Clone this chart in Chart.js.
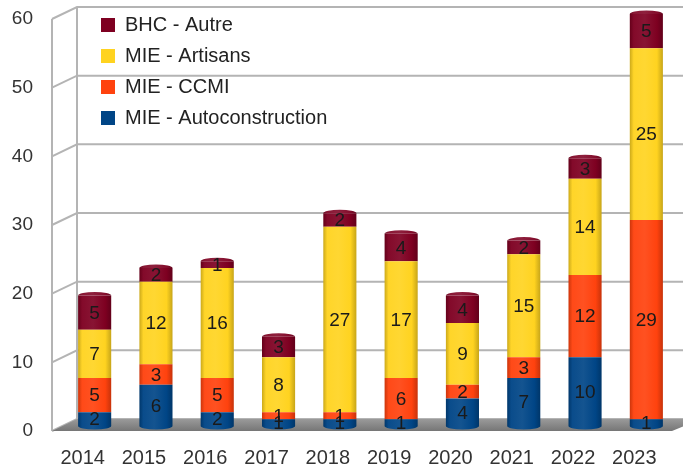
<!DOCTYPE html>
<html>
<head>
<meta charset="utf-8">
<script src="https://cdn.jsdelivr.net/npm/chart.js@4/dist/chart.umd.min.js"></script>
<style>
  html, body { margin: 0; padding: 0; background: #ffffff; }
  #wrap { width: 683px; height: 470px; }
</style>
</head>
<body>
<div id="wrap"><canvas id="c" width="683" height="470"></canvas></div>
<script>
// Categories and series
const years = ['2014', '2015', '2016', '2017', '2018', '2019', '2020', '2021', '2022', '2023'];
const autoconstruction = [2, 6, 2, 1, 1, 1, 4, 7, 10, 1];
const ccmi = [5, 3, 5, 1, 1, 6, 2, 3, 12, 29];
const artisans = [7, 12, 16, 8, 27, 17, 9, 15, 14, 25];
const autre = [5, 2, 1, 3, 2, 4, 4, 2, 3, 5];
const seriesNames = ['MIE - Autoconstruction', 'MIE - CCMI', 'MIE - Artisans', 'BHC - Autre'];
const seriesColors = ['#004586', '#ff420e', '#ffd320', '#7e0021'];
const yTicks = [0, 10, 20, 30, 40, 50, 60];

const BAR_RATIO = 0.54;
// depth offsets of the front and back planes of the 3D box
const FRONT = { dx: -12, dy: 5 };
const BACK = { dx: 13, dy: -7 };

function shade(hex, amt) {
  const n = parseInt(hex.slice(1), 16);
  let r = (n >> 16) & 255, g = (n >> 8) & 255, b = n & 255;
  const t = amt < 0 ? 0 : 255, p = Math.abs(amt);
  r = Math.round(r + (t - r) * p);
  g = Math.round(g + (t - g) * p);
  b = Math.round(b + (t - b) * p);
  return '#' + ((1 << 24) | (r << 16) | (g << 8) | b).toString(16).slice(1);
}

function cylinderGradient(chart, color, cx, half) {
  const g = chart.ctx.createLinearGradient(cx - half, 0, cx + half, 0);
  g.addColorStop(0, shade(color, -0.2));
  g.addColorStop(0.12, shade(color, 0.04));
  g.addColorStop(0.45, shade(color, 0.08));
  g.addColorStop(0.82, color);
  g.addColorStop(1, shade(color, -0.22));
  return g;
}

function cylinderFill(color) {
  return (ctx) => {
    const chart = ctx.chart;
    const xs = chart.scales && chart.scales.x;
    if (!xs || ctx.type !== 'data') return color;
    const cx = xs.getPixelForValue(ctx.dataIndex);
    const half = xs.width / years.length * BAR_RATIO / 2;
    if (!isFinite(cx) || !isFinite(half) || half <= 0) return color;
    return cylinderGradient(chart, color, cx, half);
  };
}

// back wall, grid lines and floor of the 3D box
const box3d = {
  id: 'box3d',
  beforeDraw(chart) {
    const { ctx, chartArea } = chart;
    const ys = chart.scales.y;
    const left = chartArea.left, right = chartArea.right;
    const W = chart.width;
    ctx.save();
    ctx.strokeStyle = '#b4b4b4';
    ctx.lineWidth = 2;
    ctx.beginPath();
    yTicks.forEach(v => {
      const y = ys.getPixelForValue(v);
      ctx.moveTo(left + FRONT.dx, y + FRONT.dy);
      ctx.lineTo(left + BACK.dx, y + BACK.dy);
      ctx.lineTo(W, y + BACK.dy);
    });
    const yTop = ys.getPixelForValue(yTicks[yTicks.length - 1]);
    const yBot = ys.getPixelForValue(0);
    ctx.moveTo(left + FRONT.dx, yTop + FRONT.dy);
    ctx.lineTo(left + FRONT.dx, yBot + FRONT.dy);
    ctx.moveTo(left + BACK.dx, yTop + BACK.dy);
    ctx.lineTo(left + BACK.dx, yBot + BACK.dy);
    ctx.stroke();

    // floor
    const g = ctx.createLinearGradient(0, yBot + BACK.dy, 0, yBot + FRONT.dy);
    g.addColorStop(0, '#9a9a9a');
    g.addColorStop(1, '#767676');
    ctx.fillStyle = g;
    ctx.beginPath();
    ctx.moveTo(left + FRONT.dx, yBot + FRONT.dy);
    ctx.lineTo(left + BACK.dx, yBot + BACK.dy);
    ctx.lineTo(right + BACK.dx + 12, yBot + BACK.dy);
    ctx.lineTo(right + FRONT.dx + 7, yBot + FRONT.dy);
    ctx.closePath();
    ctx.fill();
    ctx.restore();
  }
};

// rounded cylinder ends and value labels on each segment
const cylinderDecor = {
  id: 'cylinderDecor',
  afterDatasetsDraw(chart) {
    const { ctx } = chart;
    const n = chart.data.datasets.length;
    const first = chart.getDatasetMeta(0).data;
    const last = chart.getDatasetMeta(n - 1).data;
    ctx.save();
    first.forEach((el) => {
      const half = el.width / 2;
      ctx.fillStyle = cylinderGradient(chart, seriesColors[0], el.x, half);
      ctx.beginPath();
      ctx.ellipse(el.x, el.base, half, 3.5, 0, 0, Math.PI);
      ctx.fill();
    });
    last.forEach((el) => {
      const half = el.width / 2;
      ctx.fillStyle = cylinderGradient(chart, shade(seriesColors[n - 1], 0.05), el.x, half);
      ctx.beginPath();
      ctx.ellipse(el.x, el.y, half, 3.5, 0, Math.PI, 2 * Math.PI);
      ctx.fill();
    });
    ctx.font = '19px "Liberation Sans", Arial, sans-serif';
    ctx.fillStyle = '#1a1a1a';
    ctx.textAlign = 'center';
    ctx.textBaseline = 'middle';
    chart.data.datasets.forEach((ds, di) => {
      chart.getDatasetMeta(di).data.forEach((el, i) => {
        const v = ds.data[i];
        if (!v) return;
        ctx.fillText(String(v), el.x, (el.y + el.base) / 2 + 1);
      });
    });
    ctx.restore();
  }
};

// places the legend list inside the top-left corner of the box
const legendPlacement = {
  id: 'legendPlacement',
  afterLayout(chart) {
    const lg = chart.legend;
    if (!lg) return;
    const ca = chart.chartArea;
    lg.left = ca.left + 26;
    lg.top = ca.top - 10;
    lg.right = lg.left + lg.width;
    lg.bottom = lg.top + lg.height;
  }
};

const seriesData = [autoconstruction, ccmi, artisans, autre];

new Chart(document.getElementById('c'), {
  type: 'bar',
  data: {
    labels: years,
    datasets: seriesData.map((d, i) => ({
      label: seriesNames[i],
      data: d,
      backgroundColor: cylinderFill(seriesColors[i]),
      borderWidth: 0,
      categoryPercentage: 1,
      barPercentage: BAR_RATIO
    }))
  },
  options: {
    responsive: false,
    animation: false,
    devicePixelRatio: 1,
    layout: { padding: { left: 12, right: 6, top: 14, bottom: 0 } },
    scales: {
      x: {
        stacked: true,
        grid: { display: false, drawTicks: false },
        border: { display: false },
        ticks: {
          color: '#333333',
          font: { family: '"Liberation Sans", Arial, sans-serif', size: 20 },
          padding: 20,
          labelOffset: -12,
          maxRotation: 0
        },
        afterFit(scale) {
          scale.height = 44;
          scale.paddingLeft = 0;
          scale.paddingRight = 0;
        }
      },
      y: {
        stacked: true,
        min: 0,
        max: 60,
        grid: { display: false, drawTicks: false },
        border: { display: false },
        afterBuildTicks(scale) { scale.ticks = yTicks.map(v => ({ value: v })); },
        ticks: {
          color: '#333333',
          font: { family: '"Liberation Sans", Arial, sans-serif', size: 19 },
          padding: 31,
          labelOffset: 5
        },
        afterFit(scale) {
          scale.width = 52;
          scale.paddingTop = 0;
          scale.paddingBottom = 0;
        }
      }
    },
    plugins: {
      tooltip: { enabled: false },
      legend: {
        position: 'chartArea',
        align: 'start',
        reverse: true,
        labels: {
          boxWidth: 14,
          boxHeight: 14,
          padding: 11,
          color: '#222222',
          font: { family: '"Liberation Sans", Arial, sans-serif', size: 20 },
          generateLabels(chart) {
            const items = Chart.defaults.plugins.legend.labels.generateLabels(chart);
            items.forEach(it => {
              it.fillStyle = seriesColors[it.datasetIndex];
              it.strokeStyle = seriesColors[it.datasetIndex];
              it.lineWidth = 0;
            });
            return items;
          }
        }
      }
    }
  },
  plugins: [box3d, cylinderDecor, legendPlacement]
});
</script>
</body>
</html>
